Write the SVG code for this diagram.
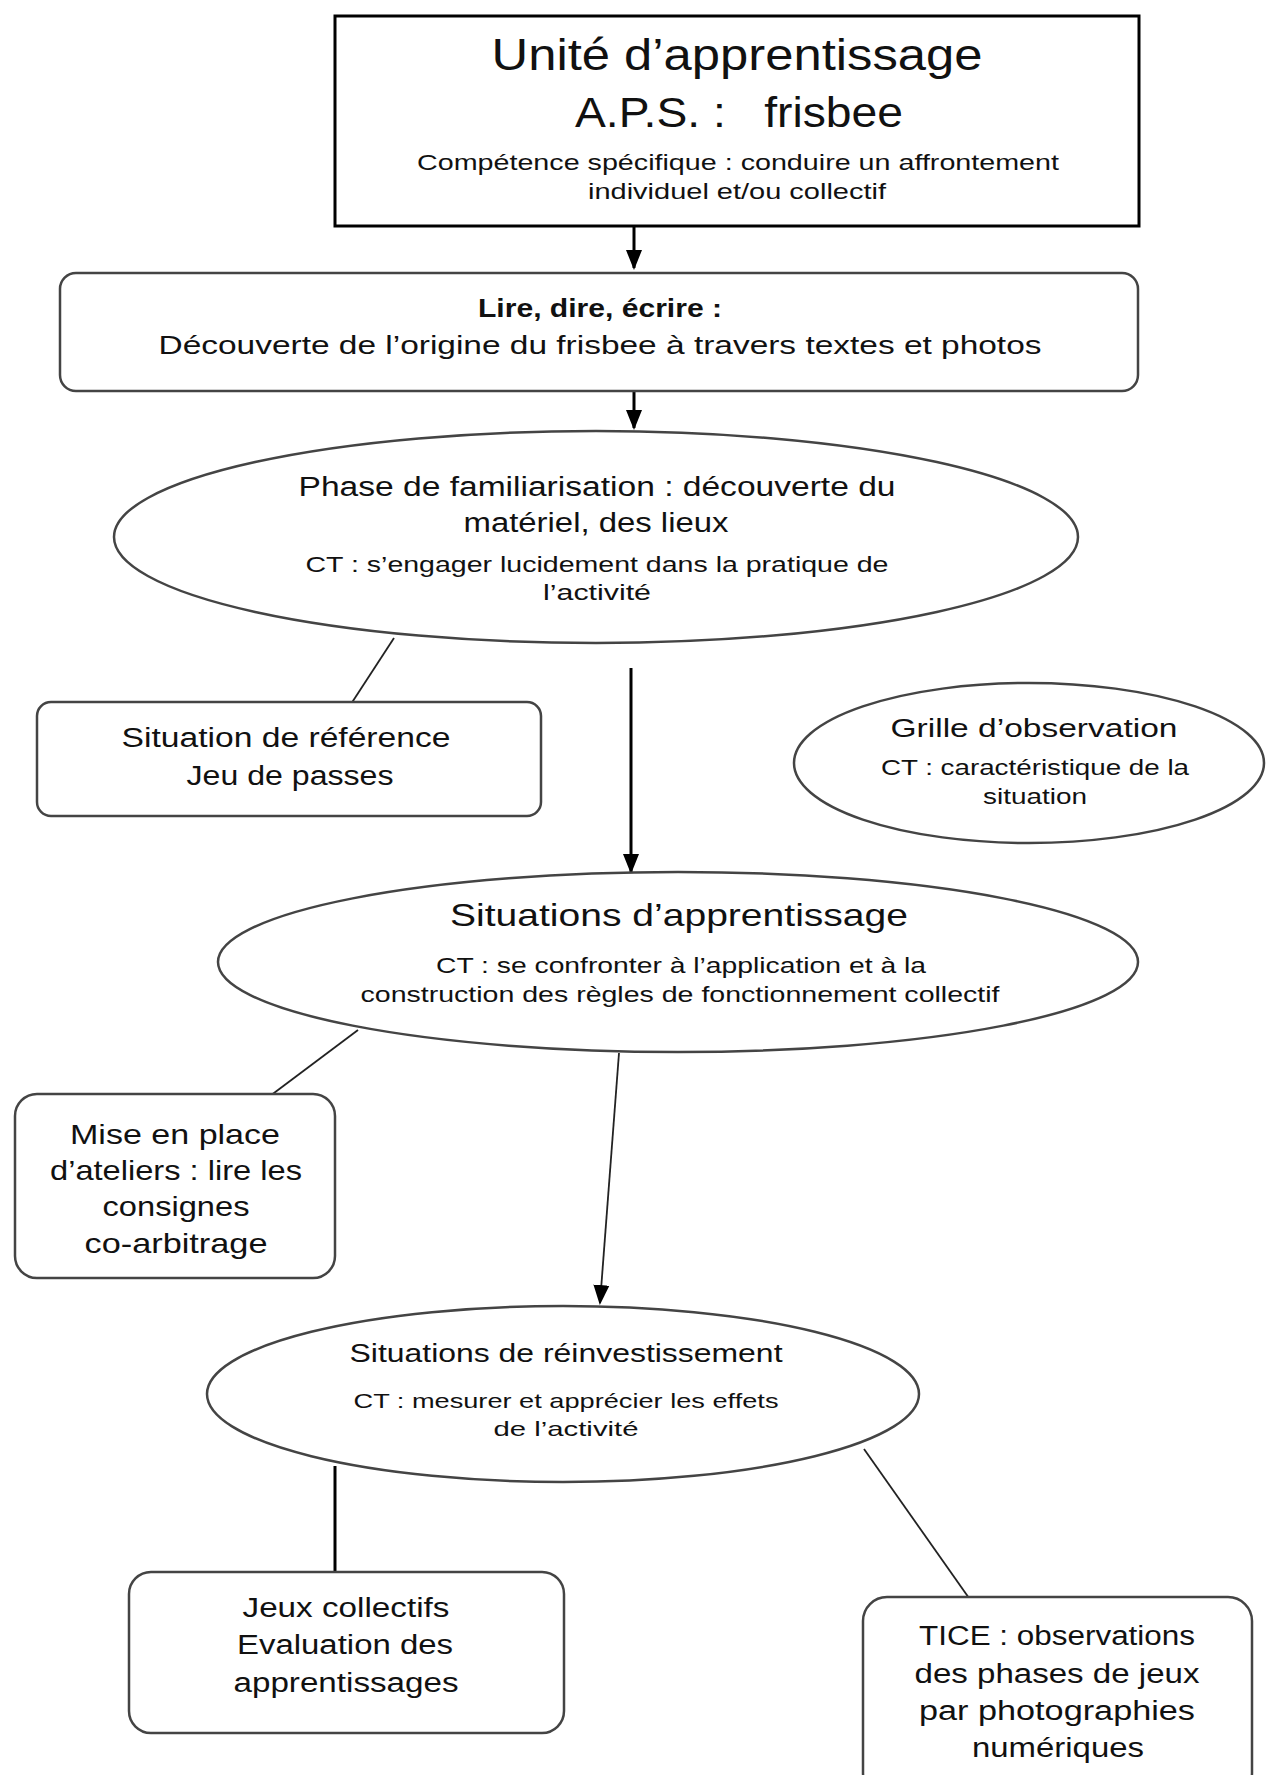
<svg xmlns="http://www.w3.org/2000/svg" width="1266" height="1775" viewBox="0 0 1266 1775">
<defs>
<marker id="ah" markerWidth="10" markerHeight="10" refX="8" refY="5" orient="auto" markerUnits="userSpaceOnUse">
<path d="M0,0 L10,5 L0,10 Z" fill="#000"/>
</marker>
<marker id="ahb" markerWidth="20" markerHeight="20" refX="18" refY="10" orient="auto" markerUnits="userSpaceOnUse">
<path d="M0,2 L20,10 L0,18 Z" fill="#000"/>
</marker>
<style>
text{font-family:"Liberation Sans","DejaVu Sans",sans-serif;fill:#111;text-anchor:middle}
.box{fill:#fff;stroke:#444;stroke-width:2.5}
.ell{fill:#fff;stroke:#444;stroke-width:2.5}
.ln{stroke:#222;stroke-width:1.8;fill:none}
.lnb{stroke:#000;stroke-width:3;fill:none}
</style>
</defs>
<rect width="1266" height="1775" fill="#fff"/>

<g id="connectors">
<line class="lnb" x1="634" y1="226" x2="634" y2="268" marker-end="url(#ahb)"/>
<line class="lnb" x1="634" y1="391" x2="634" y2="428" marker-end="url(#ahb)"/>
<line class="lnb" x1="631" y1="668" x2="631" y2="872" marker-end="url(#ahb)"/>
<line class="ln" x1="619" y1="1053" x2="600" y2="1303" marker-end="url(#ahb)"/>
<line class="ln" x1="394" y1="638" x2="351" y2="704"/>
<line class="ln" x1="358" y1="1030" x2="270" y2="1096"/>
<line class="lnb" x1="335" y1="1466" x2="335" y2="1583"/>
<line class="ln" x1="864" y1="1449" x2="976" y2="1608"/>
</g>

<g id="n-unite">
<rect x="335" y="16" width="804" height="210" fill="#fff" stroke="#000" stroke-width="3"/>
<text x="737" y="70" font-size="44" textLength="491" lengthAdjust="spacingAndGlyphs">Unité d’apprentissage</text>
<text x="739" y="127" font-size="42" textLength="328" lengthAdjust="spacingAndGlyphs" xml:space="preserve">A.P.S. :   frisbee</text>
<text x="738" y="170" font-size="22" textLength="642" lengthAdjust="spacingAndGlyphs">Compétence spécifique : conduire un affrontement</text>
<text x="737" y="199" font-size="22" textLength="298" lengthAdjust="spacingAndGlyphs">individuel et/ou collectif</text>
</g>

<g id="n-lire">
<rect class="box" x="60" y="273" width="1078" height="118" rx="16"/>
<text x="600" y="317" font-size="25" font-weight="bold" textLength="244" lengthAdjust="spacingAndGlyphs">Lire, dire, écrire :</text>
<text x="600" y="354" font-size="25" textLength="883" lengthAdjust="spacingAndGlyphs">Découverte de l’origine du frisbee à travers textes et photos</text>
</g>

<g id="n-phase">
<ellipse class="ell" cx="596" cy="537" rx="482" ry="106"/>
<text x="597" y="496" font-size="27" textLength="597" lengthAdjust="spacingAndGlyphs">Phase de familiarisation : découverte du</text>
<text x="596" y="532" font-size="27" textLength="265" lengthAdjust="spacingAndGlyphs">matériel, des lieux</text>
<text x="597" y="572" font-size="22" textLength="583" lengthAdjust="spacingAndGlyphs">CT : s’engager lucidement dans la pratique de</text>
<text x="597" y="600" font-size="22" textLength="108" lengthAdjust="spacingAndGlyphs">l’activité</text>
</g>

<g id="n-reference">
<rect class="box" x="37" y="702" width="504" height="114" rx="14"/>
<text x="286" y="747" font-size="27" textLength="329" lengthAdjust="spacingAndGlyphs">Situation de référence</text>
<text x="290" y="785" font-size="27" textLength="207" lengthAdjust="spacingAndGlyphs">Jeu de passes</text>
</g>

<g id="n-grille">
<ellipse class="ell" cx="1029" cy="763" rx="235" ry="80"/>
<text x="1034" y="737" font-size="26" textLength="287" lengthAdjust="spacingAndGlyphs">Grille d’observation</text>
<text x="1035" y="775" font-size="22" textLength="308" lengthAdjust="spacingAndGlyphs">CT : caractéristique de la</text>
<text x="1035" y="804" font-size="22" textLength="104" lengthAdjust="spacingAndGlyphs">situation</text>
</g>

<g id="n-apprentissage">
<ellipse class="ell" cx="678" cy="962" rx="460" ry="90"/>
<text x="679" y="926" font-size="32" textLength="458" lengthAdjust="spacingAndGlyphs">Situations d’apprentissage</text>
<text x="681" y="973" font-size="22" textLength="490" lengthAdjust="spacingAndGlyphs">CT : se confronter à l’application et à la</text>
<text x="680" y="1002" font-size="22" textLength="639" lengthAdjust="spacingAndGlyphs">construction des règles de fonctionnement collectif</text>
</g>

<g id="n-ateliers">
<rect class="box" x="15" y="1094" width="320" height="184" rx="22"/>
<text x="175" y="1144" font-size="28" textLength="210" lengthAdjust="spacingAndGlyphs">Mise en place</text>
<text x="176" y="1180" font-size="28" textLength="252" lengthAdjust="spacingAndGlyphs">d’ateliers : lire les</text>
<text x="176" y="1216" font-size="28" textLength="147" lengthAdjust="spacingAndGlyphs">consignes</text>
<text x="176" y="1253" font-size="28" textLength="183" lengthAdjust="spacingAndGlyphs">co-arbitrage</text>
</g>

<g id="n-reinvestissement">
<ellipse class="ell" cx="563" cy="1394" rx="356" ry="88"/>
<text x="566" y="1362" font-size="26" textLength="433" lengthAdjust="spacingAndGlyphs">Situations de réinvestissement</text>
<text x="566" y="1408" font-size="21" textLength="425" lengthAdjust="spacingAndGlyphs">CT : mesurer et apprécier les effets</text>
<text x="566" y="1436" font-size="21" textLength="145" lengthAdjust="spacingAndGlyphs">de l’activité</text>
</g>

<g id="n-jeux">
<rect class="box" x="129" y="1572" width="435" height="161" rx="22"/>
<text x="346" y="1617" font-size="27" textLength="207" lengthAdjust="spacingAndGlyphs">Jeux collectifs</text>
<text x="345" y="1654" font-size="27" textLength="216" lengthAdjust="spacingAndGlyphs">Evaluation des</text>
<text x="346" y="1692" font-size="27" textLength="225" lengthAdjust="spacingAndGlyphs">apprentissages</text>
</g>

<g id="n-tice">
<rect class="box" x="863" y="1597" width="389" height="200" rx="24"/>
<text x="1057" y="1645" font-size="27" textLength="276" lengthAdjust="spacingAndGlyphs">TICE : observations</text>
<text x="1057" y="1683" font-size="27" textLength="285" lengthAdjust="spacingAndGlyphs">des phases de jeux</text>
<text x="1057" y="1720" font-size="27" textLength="276" lengthAdjust="spacingAndGlyphs">par photographies</text>
<text x="1058" y="1757" font-size="27" textLength="172" lengthAdjust="spacingAndGlyphs">numériques</text>
</g>
</svg>
